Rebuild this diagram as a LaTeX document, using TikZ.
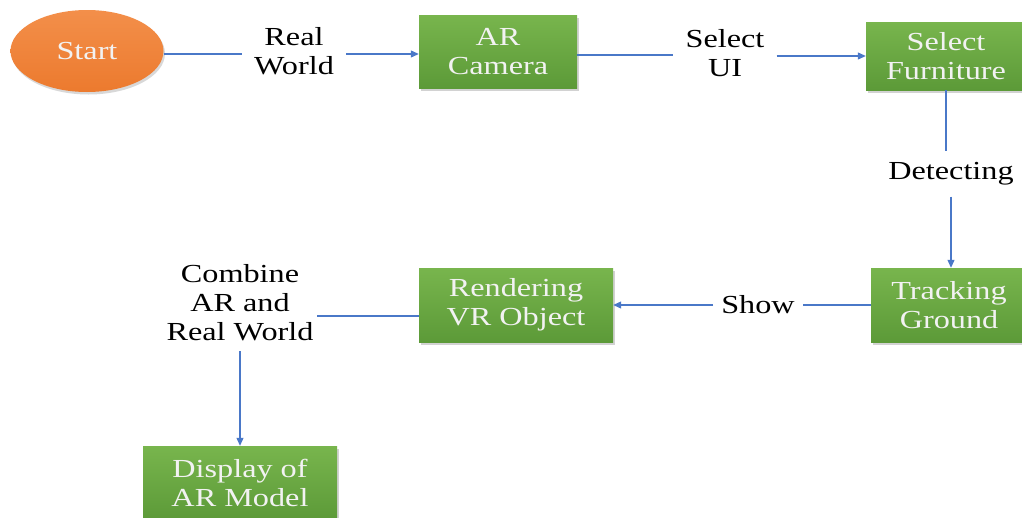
\documentclass[tikz,border=0pt]{standalone}
\usepackage{fontspec}
\setmainfont[FakeStretch=1.24]{Liberation Serif}
\usetikzlibrary{arrows.meta,shapes.geometric,shadows}
\definecolor{boxgreenlt}{HTML}{78B54D}
\definecolor{boxgreendk}{HTML}{5C9A38}
\definecolor{startor}{HTML}{EC7A2E}
\definecolor{startorlt}{HTML}{F38F4A}
\definecolor{linkblue}{HTML}{4A78C8}
\definecolor{boxtext}{HTML}{F2F2F2}
\tikzset{
  x=1pt, y=1pt,
  txt/.style={font=\fontsize{26}{29}\selectfont, align=center},
  greenbox/.style={txt, rectangle, text=boxtext, inner sep=0pt,
    top color=boxgreenlt, bottom color=boxgreendk, draw=none,
    drop shadow={opacity=0.35, shadow xshift=1.5pt, shadow yshift=-2.5pt}},
  startnode/.style={txt, ellipse, text=boxtext, inner sep=0pt,
    top color=startorlt, bottom color=startor, draw=none,
    drop shadow={opacity=0.3, shadow xshift=1.5pt, shadow yshift=-2.5pt}},
  lbl/.style={txt, text=black, inner xsep=12pt, inner ysep=10pt},
  link/.style={draw=linkblue, line width=1.1pt},
  arrowlink/.style={link, -{Triangle[length=8pt,width=7pt]}}
}
\begin{document}
\begin{tikzpicture}
\useasboundingbox (0,0) rectangle (1022,-517);
\clip (0,0) rectangle (1022,-517);
\fill[white] (0,0) rectangle (1022,-517);

\node[startnode, minimum width=153pt, minimum height=82pt] (start) at (87,-51) {Start};
\node[lbl] (rw) at (294,-51) {Real\\World};
\node[greenbox, minimum width=158pt, minimum height=73pt] (arc) at (498,-51.5) {AR\\Camera};
\node[lbl] (sui) at (725,-53) {Select\\UI};
\node[greenbox, minimum width=160pt, minimum height=68pt] (sf) at (946,-56) {Select\\Furniture};
\node[lbl, inner ysep=11pt] (det) at (951,-174) {Detecting};
\node[greenbox, minimum width=156pt, minimum height=74pt] (tg) at (949,-305) {Tracking\\Ground};
\node[lbl, inner xsep=8pt] (show) at (758,-305) {Show};
\node[greenbox, minimum width=194pt, minimum height=74pt] (rvr) at (516,-305) {Rendering\\VR Object};
\node[lbl, inner xsep=3pt] (comb) at (240,-303) {Combine\\AR and\\Real World};
\node[greenbox, minimum width=194pt, minimum height=74pt] (disp) at (240,-483) {Display of\\AR Model};

\draw[link] ([yshift=-3pt]start.east) -- ([yshift=-3pt]rw.west);
\draw[arrowlink] ([yshift=-3pt]rw.east) -- ([yshift=-3pt]rw.east -| arc.west);
\draw[link] ([yshift=-3.5pt]arc.east) -- ([yshift=-3.5pt]arc.east -| sui.west);
\draw[arrowlink] ([yshift=-3pt]sui.east) -- ([yshift=-3pt]sui.east -| sf.west);
\draw[link] (sf.south) -- (sf.south |- det.north);
\draw[arrowlink] (det.south) -- (det.south |- tg.north);
\draw[link] (tg.west) -- (show.east);
\draw[arrowlink] (show.west) -- (rvr.east);
\draw[link] ([yshift=-11pt]rvr.west) -- ([yshift=-13pt]comb.east);
\draw[arrowlink] (comb.south) -- (disp.north);
\end{tikzpicture}
\end{document}
